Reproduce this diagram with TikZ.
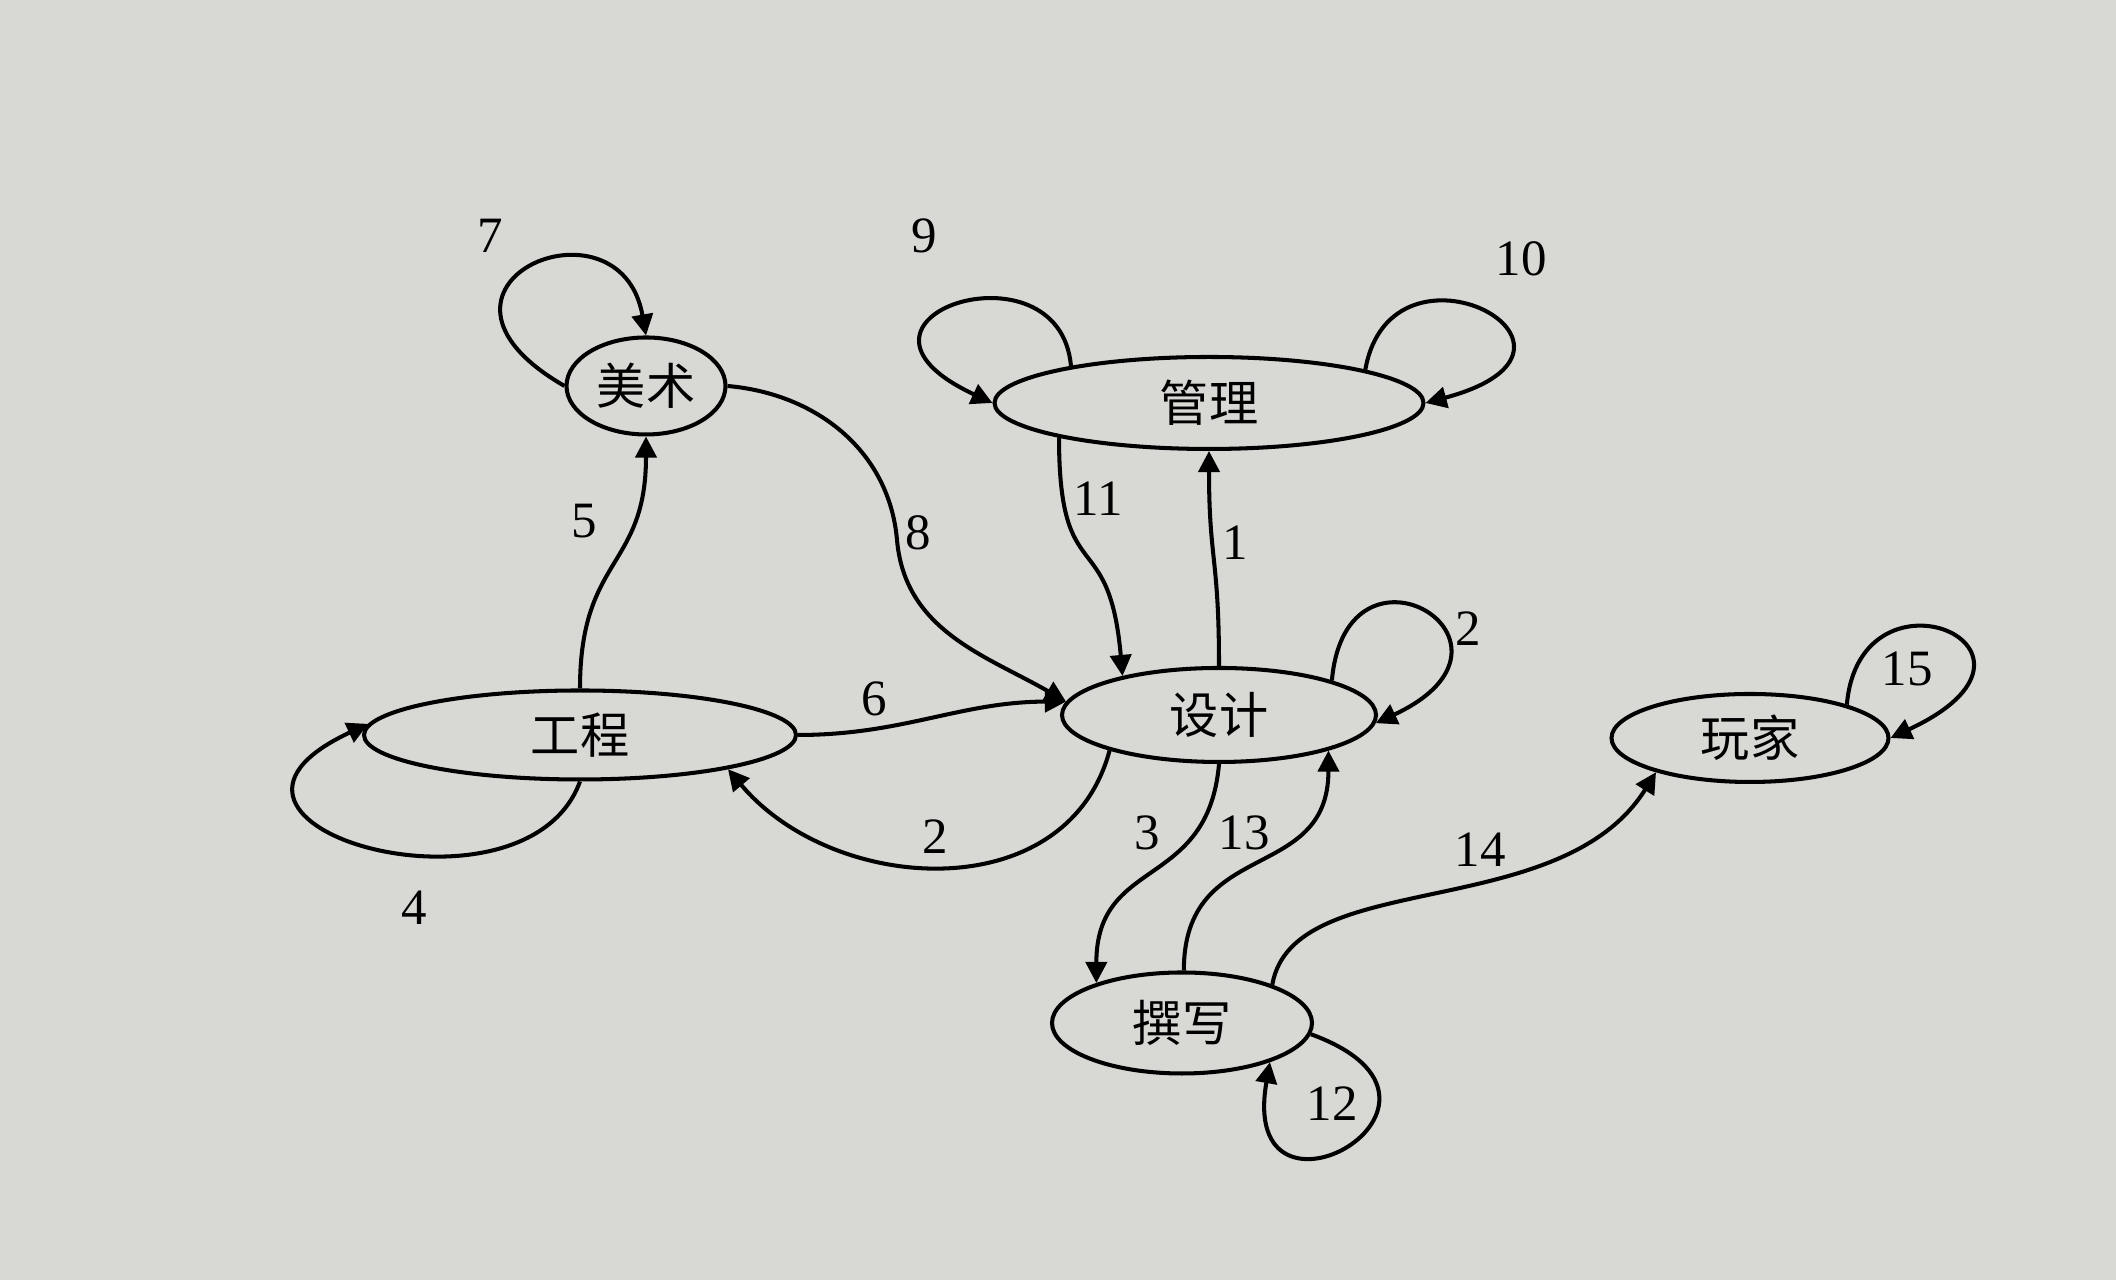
\documentclass[tikz,border=0pt]{standalone}
\usepackage{fontspec}
\setmainfont{Liberation Serif}
\newfontfamily\cjk{Noto Sans CJK SC}
\usetikzlibrary{arrows.meta, shapes.geometric}
\definecolor{pagegray}{RGB}{216,216,212}

\begin{document}
\begin{tikzpicture}[
		state/.style={draw, ellipse, inner sep=0pt, fill=pagegray, font=\cjk\fontsize{14}{16}\selectfont},
		num/.style={font=\fontsize{14.5}{16}\selectfont, inner sep=1pt},
		line width=1.15pt, >={Triangle[length=6pt, width=6pt]}, black
		]
		
		% page
		\fill[pagegray] (0,0) rectangle (21.16,12.8);
		
		% Denote states
		\node[state, minimum width=1.59cm, minimum height=0.97cm] at (6.46,8.94) (artnode) {美术};
		\node[state, minimum width=4.29cm, minimum height=0.92cm] at (12.09,8.77) (mgmtnode) {管理};
		\node[state, minimum width=4.32cm, minimum height=0.89cm] at (5.80,5.45) (engnode) {工程};
		\node[state, minimum width=3.14cm, minimum height=0.94cm] at (12.19,5.65) (designnode) {设计};
		\node[state, minimum width=2.77cm, minimum height=0.88cm] at (17.50,5.42) (playernode) {玩家};
		\node[state, minimum width=2.60cm, minimum height=1.01cm] at (11.82,2.57) (writenode) {撰写};
		\coordinate (bend8) at (8.97,7.40);
		
		% self loops
		\draw[->] (artnode.west) .. controls +(150:2.0) and +(100:1.5) .. (artnode.north);
		\draw[->] (mgmtnode.165) .. controls +(95:1.3) and +(155:2.0) .. (mgmtnode.west);
		\draw[->] (mgmtnode.12) .. controls +(80:1.5) and +(15:2.1) .. (mgmtnode.east);
		\draw[->] (engnode.south) .. controls +(-110:1.6) and +(205:2.4) .. (engnode.177);
		\draw[->] (designnode.17) .. controls +(85:1.6) and +(25:1.9) .. (designnode.-3);
		\draw[->] (writenode.-5) .. controls +(-20:2.0) and +(-100:1.9) .. (writenode.-24);
		\draw[->] (playernode.19) .. controls +(85:1.5) and +(25:2.1) .. (playernode.east);
		
		% moves between states
		\draw[->] (engnode.north) to[out=90, in=-90, looseness=1.3] (artnode.south);
		\draw[->] (artnode.east) to[out=-5, in=95] (bend8) to[out=-85, in=150] (designnode.175);
		\draw[->] (engnode.east) to[out=0, in=180] (designnode.175);
		\draw[->] (mgmtnode.193) to[out=-90, in=95, looseness=1.6] (designnode.158);
		\draw[->] (designnode.north) to[out=90, in=-90, looseness=1.3] (mgmtnode.south);
		\draw[->] (designnode.198) to[out=-105, in=-50, looseness=1.1] (engnode.-13);
		\draw[->] (designnode.south) to[out=-95, in=90, looseness=1.3] (writenode.155);
		\draw[->] (writenode.88) to[out=90, in=-90, looseness=1.3] (designnode.-18);
		\draw[->] (writenode.23) .. controls +(80:1.2) and +(-122:1.8) .. (playernode.200);
		
		% labels
		\node[num] (lab7) at (4.90,10.44) {7};
		\node[num] (lab9) at (9.24,10.44) {9};
		\node[num] (lab10) at (15.21,10.21) {10};
		\node[num] (lab5) at (5.84,7.59) {5};
		\node[num] (lab8) at (9.18,7.47) {8};
		\node[num] (lab11) at (10.98,7.81) {11};
		\node[num] (lab1) at (12.35,7.37) {1};
		\node[num] (lab2a) at (14.68,6.51) {2};
		\node[num] (lab6) at (8.74,5.81) {6};
		\node[num] (lab15) at (19.07,6.11) {15};
		\node[num] (lab2b) at (9.35,4.43) {2};
		\node[num] (lab3) at (11.47,4.47) {3};
		\node[num] (lab13) at (12.44,4.47) {13};
		\node[num] (lab14) at (14.80,4.30) {14};
		\node[num] (lab4) at (4.14,3.72) {4};
		\node[num] (lab12) at (13.32,1.76) {12};
		
	\end{tikzpicture}
\end{document}
